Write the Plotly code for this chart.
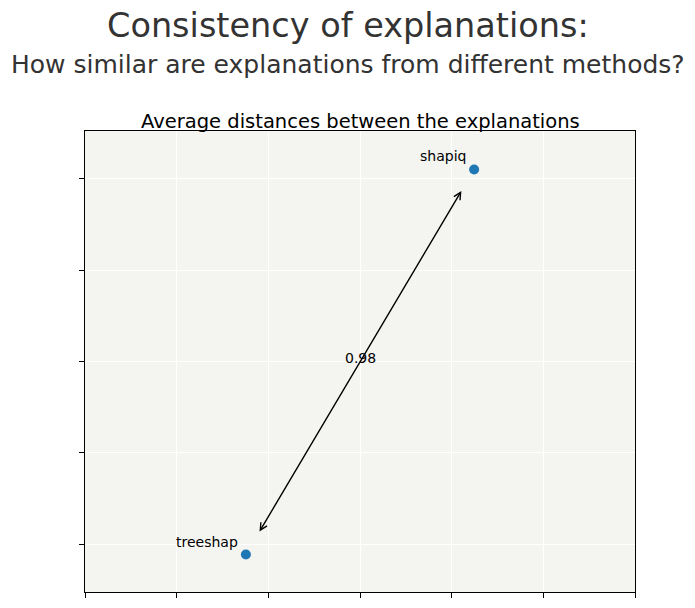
import plotly.graph_objects as go

methods = ["shapiq", "treeshap"]
x_vals = [0.249, -0.249]
y_vals = [0.420, -0.422]
distance_label = "0.98"
x_ticks = [-0.6, -0.4, -0.2, 0.0, 0.2, 0.4, 0.6]
y_ticks = [-0.4, -0.2, 0.0, 0.2, 0.4]

fig = go.Figure()
fig.add_trace(go.Scatter(
    x=x_vals, y=y_vals, mode="markers",
    marker=dict(color="#1f77b4", size=10),
    showlegend=False, hoverinfo="skip"))

for name, xv, yv in zip(methods, x_vals, y_vals):
    fig.add_annotation(x=xv, y=yv, text=name, showarrow=False,
                       xanchor="right", yanchor="bottom",
                       xshift=-6, yshift=3,
                       font=dict(size=14, color="black", family="DejaVu Sans"))

# double-headed arrow between the two explanations
fig.add_annotation(x=x_vals[0], y=y_vals[0], ax=x_vals[1], ay=y_vals[1],
                   xref="x", yref="y", axref="x", ayref="y",
                   text="", showarrow=True, arrowside="end+start",
                   arrowhead=5, startarrowhead=5, arrowsize=1, startarrowsize=1,
                   arrowwidth=1.4, arrowcolor="black",
                   standoff=25, startstandoff=25)

mx = (x_vals[0] + x_vals[1]) / 2
my = (y_vals[0] + y_vals[1]) / 2
fig.add_annotation(x=mx, y=my, text=distance_label, showarrow=False,
                   yshift=4, font=dict(size=14, color="black", family="DejaVu Sans"))

axis_common = dict(showticklabels=False, ticks="outside", ticklen=5, tickwidth=1,
                   tickcolor="black", showline=True, linecolor="black", linewidth=1.2,
                   mirror=True, showgrid=True, gridcolor="white", gridwidth=1,
                   zeroline=False)
fig.update_xaxes(range=[-0.6, 0.6], tickvals=x_ticks, **axis_common)
fig.update_yaxes(range=[-0.504, 0.504], tickvals=y_ticks, **axis_common)

fig.update_layout(
    width=695, height=608,
    margin=dict(l=85, r=60, t=131, b=16),
    paper_bgcolor="white", plot_bgcolor="#f4f4f0",
    font=dict(family="DejaVu Sans", color="black"),
)
fig.add_annotation(text="Consistency of explanations:", xref="paper", yref="paper",
                   x=0.5, y=1, xshift=-12.5, yshift=131 - 25, showarrow=False,
                   xanchor="center", yanchor="middle",
                   font=dict(size=33.5, color="#333333"))
fig.add_annotation(text="How similar are explanations from different methods?",
                   xref="paper", yref="paper", x=0.5, y=1, xshift=-12.5,
                   yshift=131 - 64, showarrow=False, xanchor="center",
                   yanchor="middle", font=dict(size=25, color="#333333"))
fig.add_annotation(text="Average distances between the explanations",
                   xref="paper", yref="paper", x=0.5, y=1, yshift=131 - 121,
                   showarrow=False, xanchor="center", yanchor="middle",
                   font=dict(size=19.5, color="black"))

fig.write_html("out.html")
